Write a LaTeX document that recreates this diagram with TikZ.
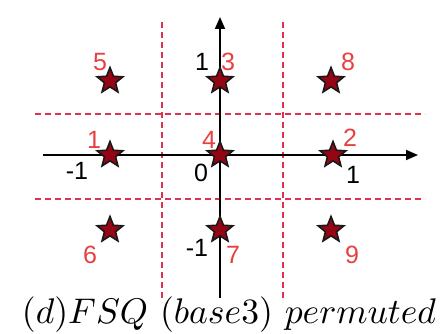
\documentclass[tikz,border=0pt]{standalone}
\usepackage{fontspec}
\setsansfont{Liberation Sans}
\usetikzlibrary{shapes.geometric,arrows.meta}
\definecolor{lblred}{RGB}{232,64,64}
\definecolor{dashred}{RGB}{222,50,80}
\definecolor{starred}{RGB}{150,5,20}
\tikzset{
  pt/.style={star, star points=5, star point ratio=2.3, minimum size=27pt, inner sep=0pt, fill=starred, draw=black!90, line width=1.6pt},
  num/.style={font=\sffamily\fontsize{25}{25}\selectfont, text=lblred, inner sep=0pt},
  tick/.style={font=\sffamily\fontsize{25}{25}\selectfont, text=black, inner sep=0pt},
  gridline/.style={draw=dashred, dash pattern=on 6pt off 4pt, line width=1.1pt},
  axis/.style={draw=black, line width=1.8pt, -{Triangle[length=12pt,width=10pt]}}
}
\begin{document}
\begin{tikzpicture}[x=1pt,y=-1pt]
\useasboundingbox (0,0) rectangle (444,334);
% grid
\coordinate (v1t) at (162,22); \coordinate (v1b) at (162,302);
\coordinate (v2t) at (283,22); \coordinate (v2b) at (283,302);
\coordinate (h1l) at (35,114); \coordinate (h1r) at (425,114);
\coordinate (h2l) at (35,199); \coordinate (h2r) at (425,199);
\draw[gridline] (v1t) -- (v1b);
\draw[gridline] (v2t) -- (v2b);
\draw[gridline] (h1l) -- (h1r);
\draw[gridline] (h2l) -- (h2r);
% axes
\coordinate (xl) at (43,155); \coordinate (xr) at (418,155);
\coordinate (yb) at (220,298); \coordinate (yt) at (220,17);
\draw[axis] (xl) -- (xr);
\draw[axis] (yb) -- (yt);
% stars
\node[pt] (s5) at (110,81) {};
\node[pt] (s3) at (220,81) {};
\node[pt] (s8) at (331,81) {};
\node[pt] (s1) at (110,155) {};
\node[pt] (s4) at (220,155) {};
\node[pt] (s2) at (333,155) {};
\node[pt] (s6) at (110,230) {};
\node[pt] (s7) at (220,230) {};
\node[pt] (s9) at (331,230) {};
% red labels
\node[num] (l5) at (100,62) {5};
\node[num] (l3) at (228,62) {3};
\node[num] (l8) at (348,62) {8};
\node[num] (l1) at (94,140) {1};
\node[num] (l4) at (209,140) {4};
\node[num] (l2) at (350,138) {2};
\node[num] (l6) at (90,255) {6};
\node[num] (l7) at (233,255) {7};
\node[num] (l9) at (352,255) {9};
% tick labels
\node[tick] (t1) at (202,62) {1};
\node[tick] (tm1) at (77,171) {-1};
\node[tick] (t0) at (201,173) {0};
\node[tick] (tr1) at (353,175) {1};
\node[tick] (tb1) at (197,248) {-1};
% caption
\node[inner sep=0pt, anchor=base] (cap) at (229,323) {\resizebox{414pt}{!}{$(d)FSQ\ (base3)\ permuted$}};
\end{tikzpicture}
\end{document}
